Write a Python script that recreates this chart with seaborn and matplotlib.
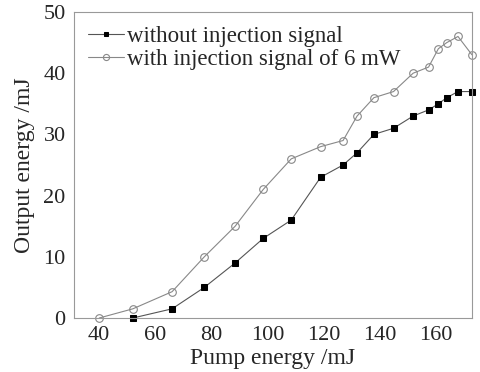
import matplotlib
matplotlib.use("Agg")
import matplotlib.pyplot as plt
import seaborn as sns
import pandas as pd
from matplotlib.ticker import MultipleLocator

pump = [40, 52, 66, 77.5, 88.5, 98.5, 108.5, 119, 127, 132, 138, 145, 152, 157.5, 161, 164, 168, 173]
with_injection = [0, 1.5, 4.3, 10, 15, 21, 26, 28, 29, 33, 36, 37, 40, 41, 44, 45, 46, 43]
pump_no = [52, 66, 77.5, 88.5, 98.5, 108.5, 119, 127, 132, 138, 145, 152, 157.5, 161, 164, 168, 173]
without_injection = [0, 1.5, 5, 9, 13, 16, 23, 25, 27, 30, 31, 33, 34, 35, 36, 37, 37]

label_without = "without injection signal"
label_with = "with injection signal of 6 mW"

sns.set_style("white")
plt.rcParams["font.family"] = ["Liberation Serif", "DejaVu Serif"]

fig = plt.figure(figsize=(4.81, 3.72), dpi=100)
ax = fig.add_axes([74 / 481, 1 - 318 / 372, (472 - 74) / 481, (318 - 12) / 372])

df_no = pd.DataFrame({"x": pump_no, "y": without_injection})
df_in = pd.DataFrame({"x": pump, "y": with_injection})

sns.lineplot(data=df_no, x="x", y="y", ax=ax, color="#555555", lw=0.8,
             marker="s", markersize=4, markerfacecolor="black",
             markeredgecolor="black", label=label_without, clip_on=False)
sns.lineplot(data=df_in, x="x", y="y", ax=ax, color="#888888", lw=0.8,
             marker="o", markersize=5.5, markerfacecolor="none",
             markeredgecolor="#888888", markeredgewidth=0.8,
             label=label_with, clip_on=False)

ax.set_xlim(31, 173)
ax.set_ylim(0, 50)
ax.xaxis.set_major_locator(MultipleLocator(20))
ax.yaxis.set_major_locator(MultipleLocator(10))
ax.yaxis.set_minor_locator(MultipleLocator(5))
ax.tick_params(axis="both", which="both", direction="in", color="#999999",
               labelsize=16, pad=6)
ax.tick_params(which="major", length=5)
ax.tick_params(which="minor", length=5)
for s in ax.spines.values():
    s.set_color("#999999")
    s.set_linewidth(0.8)

ax.set_xlabel("Pump energy /mJ", fontsize=17, labelpad=2)
ax.set_ylabel("Output energy /mJ", fontsize=17, labelpad=6)

leg = ax.legend(loc="upper left", frameon=False, fontsize=16.5, handlelength=1.6,
                handletextpad=0.1, borderaxespad=0.2, labelspacing=0.1,
                markerscale=0.8, bbox_to_anchor=(0.0, 1.0))

fig.savefig("out.png", dpi=100)
